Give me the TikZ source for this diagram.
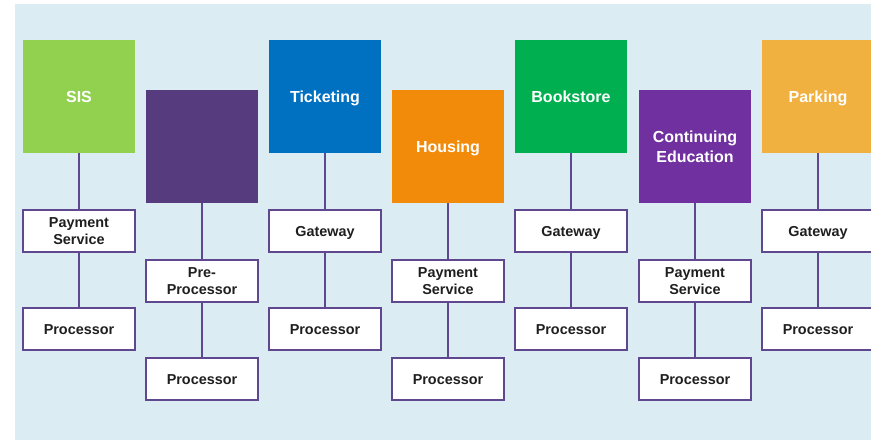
\documentclass[tikz,border=0pt]{standalone}
\usepackage{fontspec}
\setmainfont{Liberation Sans}

\definecolor{paleblue}{RGB}{219,236,243}
\definecolor{linkpurple}{RGB}{96,72,145}
\definecolor{sisgreen}{RGB}{146,208,80}
\definecolor{duskpurple}{RGB}{86,60,126}
\definecolor{ticketblue}{RGB}{0,112,192}
\definecolor{housingorange}{RGB}{243,139,10}
\definecolor{bookgreen}{RGB}{0,176,80}
\definecolor{contpurple}{RGB}{112,48,160}
\definecolor{parkinggold}{RGB}{241,177,65}

% struts that keep the capitals centred, descenders or not
\newcommand\bigstrut{\rule[-4pt]{0pt}{19.5pt}}
\newcommand\smallstrut{\rule[-3.5pt]{0pt}{17.3pt}}

\tikzset{
    system/.style={minimum width=112pt, minimum height=113pt, inner sep=0pt,
        align=center, text=white, font=\bfseries\fontsize{16}{19}\selectfont},
    stage/.style={draw=linkpurple, line width=2pt, fill=white,
        minimum width=112pt, minimum height=42pt, inner sep=0pt,
        align=center, text=black!88, font=\bfseries\fontsize{14.4}{17.3}\selectfont},
    link/.style={draw=linkpurple, line width=2pt}
}

\begin{document}
\begin{tikzpicture}[x=1pt,y=-1pt]
    \useasboundingbox (0,0) rectangle (871,440);
    \fill[paleblue] (15,4) rectangle (871,440);

    % one column per system, every second one sits lower
    \foreach \i/\sysname/\fillcol/\stagename/\shift in {
            0/SIS/sisgreen/Payment\\Service/0,
            1//duskpurple/Pre-\\Processor/50,
            2/Ticketing/ticketblue/Gateway/0,
            3/Housing/housingorange/Payment\\Service/50,
            4/Bookstore/bookgreen/Gateway/0,
            5/Continuing\\Education/contpurple/Payment\\Service/50,
            6/Parking/parkinggold/Gateway/0} {
        \pgfmathsetmacro\cx{round(79+123.1*\i)}
        \node[system, fill=\fillcol] (sys\i) at (\cx, 96.5+\shift)
            {\bigstrut\sysname\bigstrut};
        \node[stage] (mid\i) at (\cx, 231+\shift)
            {\smallstrut\stagename\smallstrut};
        \node[stage] (proc\i) at (\cx, 329+\shift)
            {\smallstrut Processor\smallstrut};
        \draw[link] (sys\i) -- (mid\i);
        \draw[link] (mid\i) -- (proc\i);
    }
\end{tikzpicture}
\end{document}
